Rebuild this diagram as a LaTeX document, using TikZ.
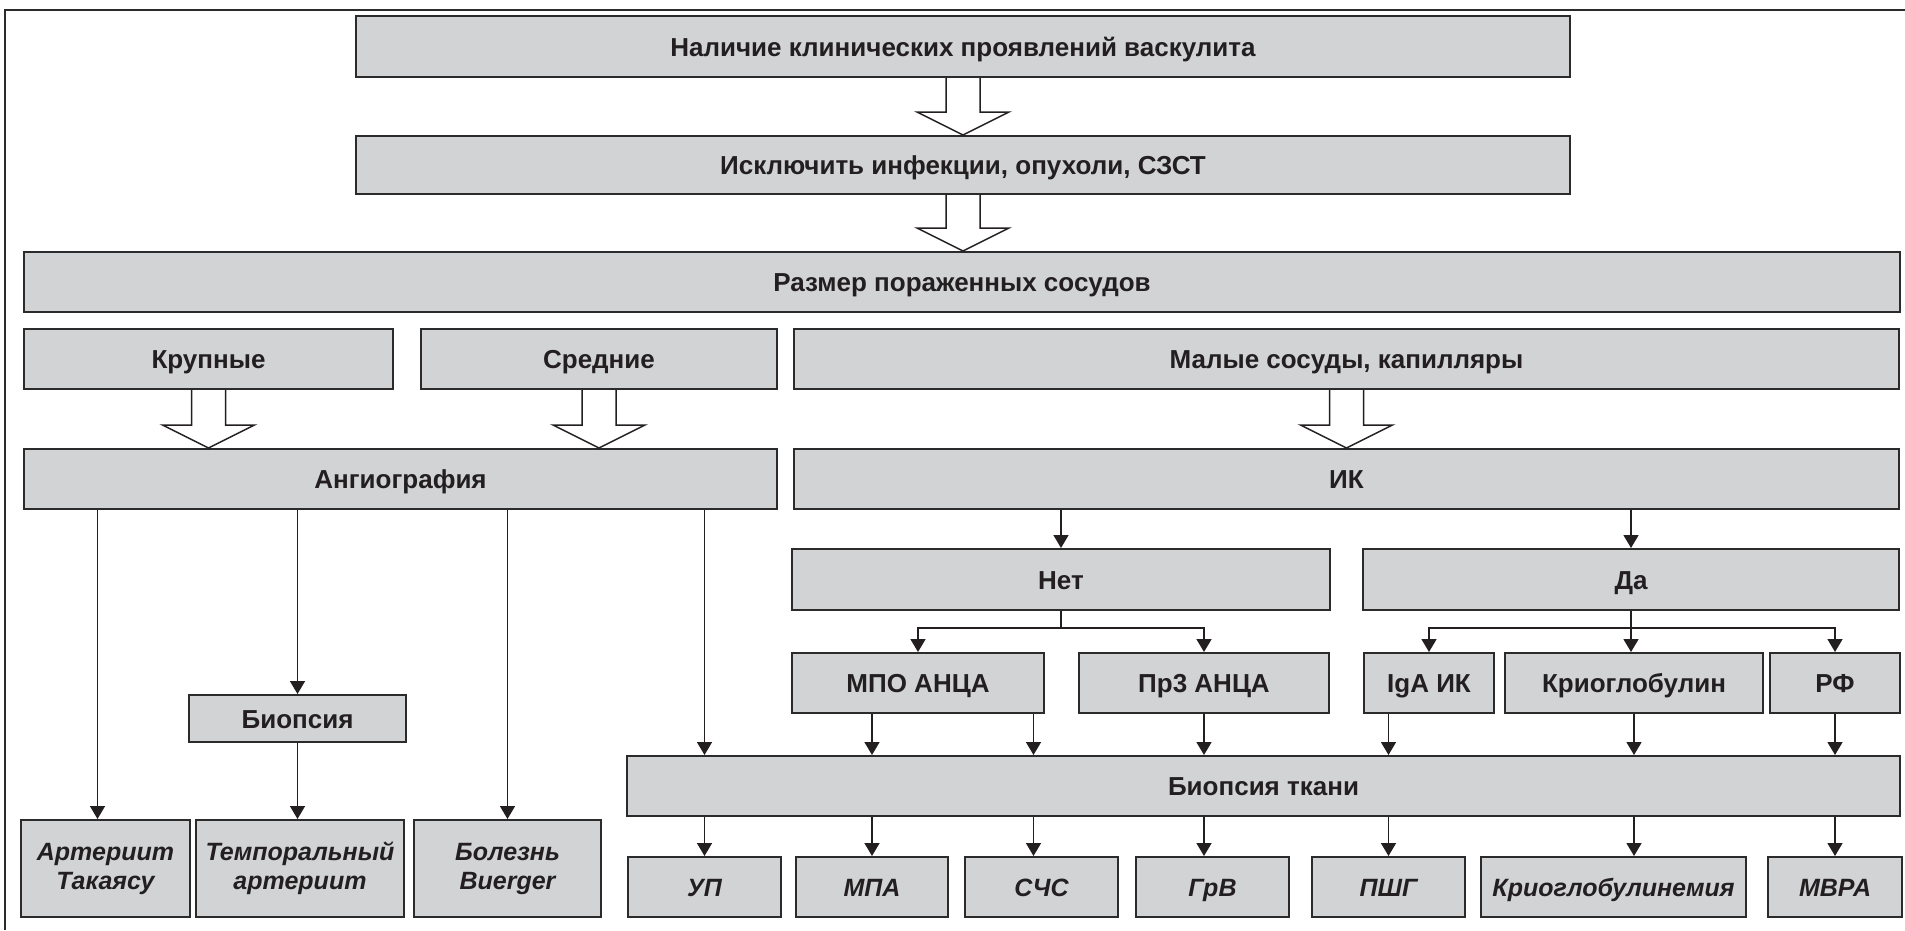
\documentclass[tikz,border=0pt]{standalone}
\usepackage{fontspec}
\setmainfont{Liberation Sans}
\usetikzlibrary{arrows.meta,calc}

\definecolor{boxfill}{RGB}{209,211,212}
\definecolor{boxline}{RGB}{43,43,43}
\definecolor{ink}{RGB}{35,31,32}

% wide white arrow from one box down to the next
\newcommand{\hollowarrow}[2]{%
    \draw[hollow] let \p1=(#1.south), \p2=(#2.north) in
        (\x1-17pt,\y1) -- (\x1-17pt,\y2+23pt) -- (\x1-46pt,\y2+23pt) -- (\x1,\y2)
        -- (\x1+46pt,\y2+23pt) -- (\x1+17pt,\y2+23pt) -- (\x1+17pt,\y1);
}

\begin{document}
\begin{tikzpicture}[x=1pt, y=-1pt,
    box/.style={draw=boxline, fill=boxfill, line width=2pt, inner sep=0pt, text=ink,
        font=\fontsize{26}{29}\selectfont\bfseries},
    oneline/.style={text height=19pt, text depth=0pt},
    result/.style={box, align=center, font=\fontsize{25}{29}\selectfont\bfseries\itshape},
    conn/.style={draw=ink, line width=1.6pt},
    hollow/.style={draw=ink, line width=1.5pt, fill=white, line join=miter},
    frame/.style={draw=boxline, line width=2pt},
    >={Triangle[length=13pt,width=15pt]}]

    \useasboundingbox (0,0) rectangle (1905,930);
    \draw[frame] (5,930) -- (5,10) -- (1905,10);

    \begin{scope}[every node/.style={box, oneline, minimum height=60pt}] %steps
        \node[minimum width=1214pt, minimum height=61pt] (signs) at (963,46.5) {Наличие клинических проявлений васкулита};
        \node[minimum width=1214pt, minimum height=58pt] (exclude) at (963,165) {Исключить инфекции, опухоли, СЗСТ};
        \node[minimum width=1876pt] (size) at (962,282) {Размер пораженных сосудов};
        \node[minimum width=369pt] (large) at (208.5,359) {Крупные};
        \node[minimum width=356pt] (medium) at (599,359) {Средние};
        \node[minimum width=1105pt] (small) at (1346.5,359) {Малые сосуды, капилляры};
        \node[minimum width=753pt] (angio) at (400.5,479) {Ангиография};
        \node[minimum width=1105pt] (ic) at (1346.5,479) {ИК};
        \node[minimum width=217pt, minimum height=47pt] (biopsy) at (297.5,718.5) {Биопсия};
        \node[minimum width=538pt, minimum height=61pt] (no) at (1061,579.5) {Нет};
        \node[minimum width=536pt, minimum height=61pt] (yes) at (1631,579.5) {Да};
        \node[minimum width=252pt] (mpo) at (918,683) {МПО АНЦА};
        \node[minimum width=250pt] (pr3) at (1204,683) {Пр3 АНЦА};
        \node[minimum width=130pt] (iga) at (1429,683) {IgA ИК};
        \node[minimum width=258pt] (cryo) at (1634,683) {Криоглобулин};
        \node[minimum width=130pt] (rf) at (1835,683) {РФ};
        \node[minimum width=1273pt] (tissue) at (1263.5,786) {Биопсия ткани};
    \end{scope}

    \begin{scope}[every node/.style={result, minimum height=60pt}] %diagnoses
        \node[minimum width=169pt, minimum height=97pt] (takayasu) at (105.5,868.5) {Артериит\\Такаясу};
        \node[minimum width=208pt, minimum height=97pt] (temporal) at (300,868.5) {Темпоральный\\артериит};
        \node[minimum width=187pt, minimum height=97pt] (buerger) at (507.5,868.5) {Болезнь\\Buerger};
        \node[oneline, minimum width=153pt] (up) at (704.5,887) {УП};
        \node[oneline, minimum width=152pt] (mpa) at (872,887) {МПА};
        \node[oneline, minimum width=153pt] (ssc) at (1041.5,887) {СЧС};
        \node[oneline, minimum width=153pt] (grv) at (1212.5,887) {ГрВ};
        \node[oneline, minimum width=153pt] (pshg) at (1388.5,887) {ПШГ};
        \node[oneline, minimum width=265pt] (cryoem) at (1613.5,887) {Криоглобулинемия};
        \node[oneline, minimum width=134pt] (mvra) at (1835,887) {МВРА};
    \end{scope}

    \hollowarrow{signs}{exclude}
    \hollowarrow{exclude}{size}
    \hollowarrow{large}{angio}
    \hollowarrow{medium}{angio}
    \hollowarrow{small}{ic}

    \begin{scope}[line width=1.6pt, every edge/.style={conn}]
        % angiography branch
        \path [->] ([xshift=-8pt]angio.south -| takayasu) edge ([xshift=-8pt]takayasu.north);
        \path [->] (angio.south -| biopsy) edge (biopsy.north);
        \path [->] (biopsy.south) edge (temporal.north -| biopsy);
        \path [->] (angio.south -| buerger) edge (buerger.north);
        \path [->] (angio.south -| up) edge (tissue.north -| up);
        % immune complexes
        \path [->] (ic.south -| no) edge (no.north);
        \path [->] (ic.south -| yes) edge (yes.north);
        \draw[conn] (no.south) -- ++(0,17) coordinate (nosplit);
        \draw[conn, ->] (nosplit) -| (mpo.north);
        \draw[conn, ->] (nosplit) -| (pr3.north);
        \draw[conn] (yes.south) -- ++(0,17) coordinate (yessplit);
        \draw[conn, ->] (yessplit) -| (iga.north);
        \draw[conn, ->] (yessplit) -| (rf.north);
        \path [->] (yessplit) edge (yessplit |- cryo.north);
        % into tissue biopsy
        \path [->] (mpo.south -| mpa) edge (tissue.north -| mpa);
        \path [->] ([xshift=-8pt]mpo.south -| ssc) edge ([xshift=-8pt]tissue.north -| ssc);
        \path [->] (pr3.south) edge (tissue.north -| pr3);
        \path [->] (iga.south -| pshg) edge (tissue.north -| pshg);
        \path [->] (cryo.south) edge (tissue.north -| cryo);
        \path [->] (rf.south) edge (tissue.north -| rf);
        % out of tissue biopsy
        \path [->] (tissue.south -| up) edge (up.north);
        \path [->] (tissue.south -| mpa) edge (mpa.north);
        \path [->] ([xshift=-8pt]tissue.south -| ssc) edge ([xshift=-8pt]ssc.north);
        \path [->] (tissue.south -| pr3) edge (grv.north -| pr3);
        \path [->] (tissue.south -| pshg) edge (pshg.north);
        \path [->] (tissue.south -| cryo) edge (cryoem.north -| cryo);
        \path [->] (tissue.south -| rf) edge (mvra.north -| rf);
    \end{scope}

\end{tikzpicture}
\end{document}
